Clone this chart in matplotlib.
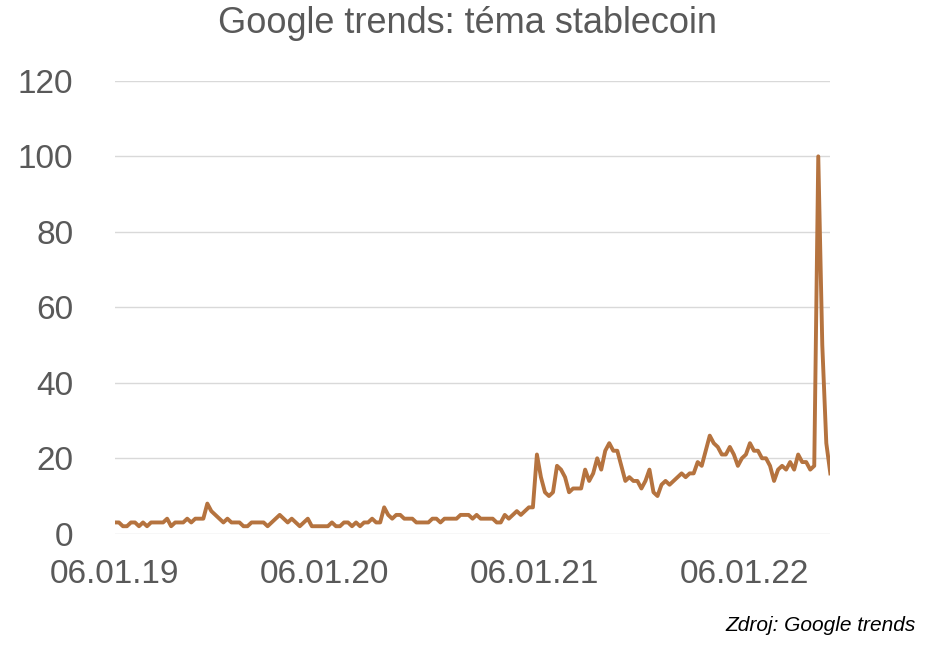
import numpy as np
import pandas as pd
import matplotlib
matplotlib.use("Agg")
import matplotlib.pyplot as plt
import matplotlib.dates as mdates

plt.rcParams["font.family"] = ["Liberation Sans", "DejaVu Sans"]

# weekly interest, Google trends
vals_2019 = [3, 3, 2, 2, 3, 3, 2, 3, 2, 3, 3, 3, 3, 4, 2, 3, 3, 3, 4, 3, 4, 4, 4, 8, 6, 5,
             4, 3, 4, 3, 3, 3, 2, 2, 3, 3, 3, 3, 2, 3, 4, 5, 4, 3, 4, 3, 2, 3, 4, 2, 2, 2]
vals_2020 = [2, 2, 3, 2, 2, 3, 3, 2, 3, 2, 3, 3, 4, 3, 3, 7, 5, 4, 5, 5, 4, 4, 4, 3, 3, 3,
             3, 4, 4, 3, 4, 4, 4, 4, 5, 5, 5, 4, 5, 4, 4, 4, 4, 3, 3, 5, 4, 5, 6, 5, 6, 7]
vals_2021 = [7, 21, 15, 11, 10, 11, 18, 17, 15, 11, 12, 12, 12, 17, 14, 16, 20, 17, 22, 24,
             22, 22, 18, 14, 15, 14, 14, 12, 14, 17, 11, 10, 13, 14, 13, 14, 15, 16, 15, 16,
             16, 19, 18, 22, 26, 24, 23, 21, 21, 23, 21, 18]
vals_2022 = [20, 21, 24, 22, 22, 20, 20, 18, 14, 17, 18, 17, 19, 17, 21, 19, 19, 17, 18,
             100, 50, 24, 16]
values = vals_2019 + vals_2020 + vals_2021 + vals_2022
dates = pd.date_range("2019-01-06", periods=len(values), freq="7D")
tick_dates = pd.to_datetime(["2019-01-06", "2020-01-06", "2021-01-06", "2022-01-06"])

grey = "#595959"
fig = plt.figure(figsize=(9.34, 6.47), dpi=100)
ax = fig.add_axes([0.123, 0.175, 0.766, 0.70])
ax.plot(dates, values, color="#B5733F", lw=2.8)

ax.set_ylim(0, 120)
ax.set_yticks(range(0, 121, 20))
ax.set_xlim(dates[0], dates[-1])
ax.set_xticks(tick_dates)
ax.xaxis.set_major_formatter(mdates.DateFormatter("%d.%m.%y"))
ax.grid(axis="y", color="#d9d9d9", lw=1)
ax.set_axisbelow(True)
for s in ax.spines.values():
    s.set_visible(False)
ax.tick_params(length=0, labelsize=24, colors=grey)
ax.tick_params(axis="x", pad=18)
ax.tick_params(axis="y", pad=30)

fig.suptitle("Google trends: téma stablecoin", fontsize=26, color=grey, y=0.99)
fig.text(0.98, 0.025, "Zdroj: Google trends", ha="right", fontsize=15, style="italic")

fig.savefig("out.png", dpi=100)
